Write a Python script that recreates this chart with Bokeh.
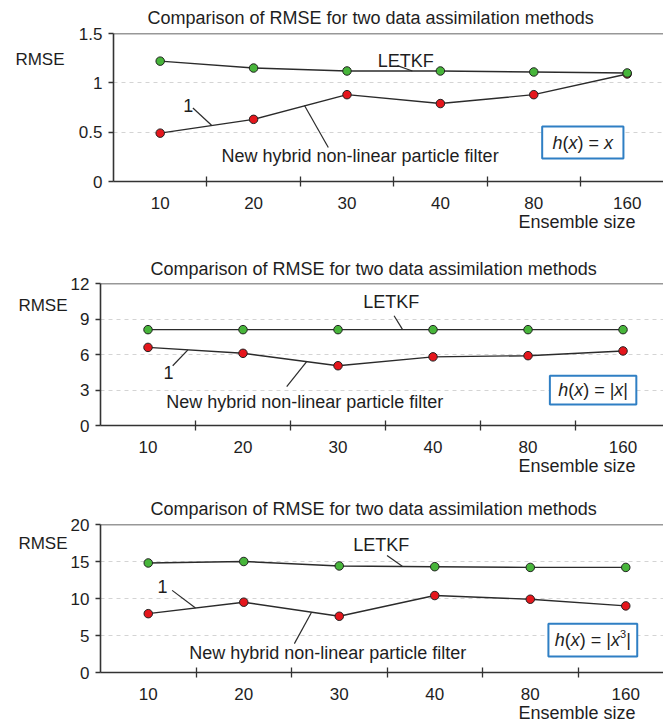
from bokeh.plotting import figure
from bokeh.layouts import column
from bokeh.models import Range1d, FixedTicker, Span, LinearAxis, Title
from bokeh.core.properties import value
from bokeh.embed import file_html
from bokeh.resources import INLINE

FONT = "Liberation Sans"
TXT = "#1e1e1e"
AX = "#333333"
LINE = "#2b2b2b"
GREEN = "#47b53a"
RED = "#e5161c"
BLUE = "#2f7fc4"

# ---------------- data ----------------
ensemble_sizes = ["10", "20", "30", "40", "80", "160"]
title_text = "Comparison of RMSE for two data assimilation methods"
x_title = "Ensemble size"
y_title = "RMSE"
letkf_name = "LETKF"
hybrid_name = "New hybrid non-linear particle filter"
curve_number = "1"

letkf_1 = [1.22, 1.15, 1.12, 1.12, 1.11, 1.10]
hybrid_1 = [0.49, 0.63, 0.88, 0.79, 0.88, 1.09]
y_ticks_1 = [0, 0.5, 1, 1.5]
y_labels_1 = ["0", "0.5", "1", "1.5"]

letkf_2 = [8.1, 8.1, 8.1, 8.1, 8.1, 8.1]
hybrid_2 = [6.6, 6.1, 5.05, 5.8, 5.9, 6.3]
y_ticks_2 = [0, 3, 6, 9, 12]
y_labels_2 = ["0", "3", "6", "9", "12"]

letkf_3 = [14.8, 15.0, 14.4, 14.3, 14.2, 14.2]
hybrid_3 = [7.95, 9.5, 7.6, 10.4, 9.9, 9.0]
y_ticks_3 = [0, 5, 10, 15, 20]
y_labels_3 = ["0", "5", "10", "15", "20"]

# formula pieces: (text, style)  style: "i" italic, "n" normal, "s" superscript
formula_1 = [("h", "i"), ("(", "n"), ("x", "i"), (") = ", "n"), ("x", "i")]
formula_2 = [("h", "i"), ("(", "n"), ("x", "i"), (") = |", "n"), ("x", "i"), ("|", "n")]
formula_3 = [("h", "i"), ("(", "n"), ("x", "i"), (") = |", "n"), ("x", "i"), ("3", "s"), ("|", "n")]

# ---------------- layout / annotation placement ----------------
panels = [
    dict(letkf=letkf_1, hybrid=hybrid_1, yt=y_ticks_1, yl=y_labels_1, formula=formula_1,
         height=240, top=33, bottom=59, left=113, xend=5.889, toff=34, tstand=11,
         rmse_y=1.236, rmse_stand=11,
         letkf_lbl=(3.13, 1.226), letkf_ld=(3.04, 1.175, 3.20, 1.12),
         one_lbl=(0.80, 0.77), one_ld=(0.85, 0.745, 1.05, 0.57),
         hyb_lbl=(2.64, 0.263), hyb_ld=(2.30, 0.345, 2.045, 0.77),
         box=(4.59, 5.46, 0.233, 0.557)),
    dict(letkf=letkf_2, hybrid=hybrid_2, yt=y_ticks_2, yl=y_labels_2, formula=formula_2,
         height=240, top=43, bottom=55, left=100, xend=5.926, toff=50, tstand=10,
         rmse_y=10.1, rmse_stand=0,
         letkf_lbl=(3.06, 10.4), letkf_ld=(3.09, 9.27, 3.18, 8.1),
         one_lbl=(0.716, 4.49), one_ld=(0.76, 5.05, 0.92, 6.39),
         hyb_lbl=(2.15, 1.96), hyb_ld=(2.17, 5.4, 1.96, 3.28),
         box=(4.73, 5.64, 1.77, 4.2)),
    dict(letkf=letkf_3, hybrid=hybrid_3, yt=y_ticks_3, yl=y_labels_3, formula=formula_3,
         height=244, top=44, bottom=52, left=100, xend=5.895, toff=50, tstand=12,
         rmse_y=17.4, rmse_stand=0,
         letkf_lbl=(2.94, 17.2), letkf_ld=(3.0, 15.8, 3.16, 14.35),
         one_lbl=(0.65, 11.6), one_ld=(0.75, 11.1, 0.995, 8.72),
         hyb_lbl=(2.38, 2.6), hyb_ld=(2.21, 8.15, 2.03, 3.9),
         box=(4.69, 5.62, 2.16, 6.6)),
]

EM = {"h": 0.556, "(": 0.333, ")": 0.333, "x": 0.5, " ": 0.278, "=": 0.584, "|": 0.26, "3": 0.556}
FS = 18
SUP = 11


def piece_width(t, style):
    size = SUP if style == "s" else FS
    return sum(EM.get(c, 0.55) for c in t) * size


def make_panel(d):
    ymax = d["yt"][-1]
    p = figure(width=663, height=d["height"], x_range=Range1d(0, d["xend"]),
               y_range=Range1d(0, ymax), output_backend="svg", toolbar_location=None,
               min_border_left=d["left"], min_border_right=0, min_border_top=d["top"],
               min_border_bottom=d["bottom"], outline_line_color=None,
               background_fill_color="white", border_fill_color="white")
    p.frame_align = False

    p.title.text = title_text
    p.title.align = "left"
    p.title.offset = d["toff"]
    p.title.text_font = FONT
    p.title.text_font_size = "18px"
    p.title.text_font_style = "normal"
    p.title.text_color = TXT
    p.title.standoff = d["tstand"]

    xs = [i + 0.5 for i in range(len(ensemble_sizes))]
    bounds = [float(i) for i in range(1, len(ensemble_sizes))]

    xa = p.xaxis[0]
    xa.ticker = FixedTicker(ticks=xs, minor_ticks=bounds)
    xa.major_label_overrides = {x: s for x, s in zip(xs, ensemble_sizes)}
    xa.major_tick_in = 0
    xa.major_tick_out = 0
    xa.minor_tick_in = 5
    xa.minor_tick_out = 5
    xa.minor_tick_line_color = AX
    xa.minor_tick_line_width = 1.3
    xa.axis_line_color = AX
    xa.axis_line_width = 1.6
    xa.major_label_text_font = FONT
    xa.major_label_text_font_size = "17px"
    xa.major_label_text_color = TXT
    xa.major_label_standoff = 10

    ya = p.yaxis[0]
    ya.ticker = FixedTicker(ticks=d["yt"])
    ya.major_label_overrides = {t: s for t, s in zip(d["yt"], d["yl"])}
    ya.major_tick_in = 0
    ya.major_tick_out = 5
    ya.major_tick_line_color = AX
    ya.major_tick_line_width = 1.3
    ya.minor_tick_line_color = None
    ya.axis_line_color = AX
    ya.axis_line_width = 1.6
    ya.major_label_text_font = FONT
    ya.major_label_text_font_size = "17px"
    ya.major_label_text_color = TXT
    ya.major_label_standoff = 6

    # "RMSE" written as the single label of an outer, line-less left axis
    ry = d["rmse_y"]
    ra = LinearAxis(ticker=FixedTicker(ticks=[ry]), major_label_overrides={ry: y_title},
                    axis_line_color=None, major_tick_line_color=None,
                    minor_tick_line_color=None, major_tick_in=0, major_tick_out=0,
                    major_label_standoff=d["rmse_stand"], major_label_text_font=FONT,
                    major_label_text_font_size="17px", major_label_text_color=TXT)
    p.add_layout(ra, "left")

    # "Ensemble size" under the tick labels, right-aligned
    p.add_layout(Title(text=x_title, align="right", offset=28, vertical_align="top",
                       standoff=0, text_font=FONT, text_font_size="18px",
                       text_font_style="normal", text_color=TXT), "below")

    p.xgrid.grid_line_color = None
    p.ygrid.grid_line_color = "#d4d4d4"
    p.ygrid.grid_line_dash = "4 4"
    p.ygrid.grid_line_width = 1

    p.add_layout(Span(location=ymax, dimension="width", line_color=AX, line_width=1.6))

    # series
    p.line(xs, d["hybrid"], line_color=LINE, line_width=1.4)
    p.scatter(xs, d["hybrid"], size=8.5, fill_color=RED, line_color="#222222", line_width=1)
    p.line(xs, d["letkf"], line_color=LINE, line_width=1.4)
    p.scatter(xs, d["letkf"], size=8.5, fill_color=GREEN, line_color="#222222", line_width=1)

    # leader lines
    for key in ("letkf_ld", "one_ld", "hyb_ld"):
        x0, y0, x1, y1 = d[key]
        p.segment(x0=[x0], y0=[y0], x1=[x1], y1=[y1], line_color=LINE, line_width=1.2)

    for key, txt in (("letkf_lbl", letkf_name), ("one_lbl", curve_number), ("hyb_lbl", hybrid_name)):
        x, y = d[key]
        p.text(x=[x], y=[y], text=[txt], text_font=value(FONT), text_font_size="18px",
               text_align="center", text_baseline="middle", text_color=TXT)

    # formula box
    l, r, b, t = d["box"]
    p.quad(left=[l], right=[r], bottom=[b], top=[t], fill_color="white",
           line_color=BLUE, line_width=2)
    cx, cy = (l + r) / 2, (b + t) / 2
    total = sum(piece_width(s, st) for s, st in d["formula"])
    off = -total / 2
    for s, st in d["formula"]:
        p.text(x=[cx], y=[cy], text=[s], x_offset=off, y_offset=(-6 if st == "s" else 0),
               text_font=value(FONT),
               text_font_size=(f"{SUP}px" if st == "s" else f"{FS}px"),
               text_font_style=("italic" if st == "i" else "normal"),
               text_align="left", text_baseline="middle", text_color=TXT)
        off += piece_width(s, st)
    return p


figs = [make_panel(d) for d in panels]
layout = column(*figs, spacing=0)
open("out.html", "w").write(file_html(layout, INLINE))
